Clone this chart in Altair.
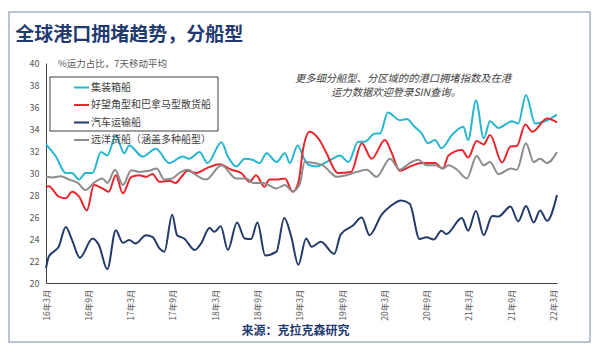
import altair as alt
import pandas as pd

FONT = "Noto Sans CJK SC"

series_names = ["集装箱船", "好望角型和巴拿马型散货船", "汽车运输船", "远洋货船（涵盖多种船型）"]
series_colors = ["#27b6d2", "#e8262d", "#223a6a", "#8c8c8c"]

tick_months = [0, 6, 12, 18, 24, 30, 36, 42, 48, 54, 60, 66, 72]
tick_labels = ["16年3月", "16年9月", "17年3月", "17年9月", "18年3月", "18年9月",
               "19年3月", "19年9月", "20年3月", "20年9月", "21年3月", "21年9月", "22年3月"]
y_ticks = [20, 22, 24, 26, 28, 30, 32, 34, 36, 38, 40]

# months since 2016-03, values in % of capacity
container_m = [0, 1.4, 2.8, 3.7, 4.7, 5.6, 6.6, 7.8, 8.7, 9.9, 11.1, 11.8, 13.7, 15.6, 17.5, 19.4,
               20.3, 21.8, 22.9, 24.9, 25.8, 27.0, 28.2, 29.3, 30.3, 31.3, 32.7, 33.9, 34.6, 35.7,
               36.7, 37.4, 38.4, 39.5, 40.7, 41.7, 42.9, 44.3, 45.2, 46.7, 47.4, 48.5, 50.2, 51.2,
               52.3, 53.3, 54.2, 55.2, 56.1, 57.6, 59.2, 59.9, 61.0, 62.1, 63.0, 64.2, 66.1, 67.0,
               68.1, 69.4, 70.8, 72.5]
container_v = [32.6, 31.5, 30.0, 30.0, 29.4, 30.0, 30.0, 31.9, 31.6, 33.4, 31.8, 32.5, 31.5, 32.2,
               30.9, 31.5, 31.3, 31.9, 30.9, 32.8, 31.5, 30.6, 31.3, 31.2, 30.9, 31.8, 31.0, 31.8,
               30.9, 32.5, 31.2, 30.7, 30.6, 30.9, 31.3, 31.6, 31.0, 32.85, 32.85, 33.6, 33.6, 35.5,
               34.8, 34.9, 34.2, 33.6, 32.7, 33.0, 32.25, 33.45, 34.2, 33.0, 36.6, 33.15, 34.7, 34.1,
               34.7, 34.5, 37.1, 34.5, 34.7, 35.3]

bulk_m = [0, 0.4, 1.8, 2.8, 3.7, 4.7, 5.8, 6.8, 8.0, 8.9, 9.9, 10.9, 12.1, 13.2, 14.2, 15.1, 16.1,
          17.5, 18.4, 19.2, 20.1, 21.3, 22.7, 24.6, 26.3, 27.7, 28.9, 29.8, 31.0, 31.7, 32.7, 33.9,
          35.0, 35.8, 36.5, 37.4, 38.8, 39.8, 41.4, 43.3, 44.8, 46.2, 48.1, 49.0, 50.2, 51.7, 53.3,
          55.2, 56.3, 57.1, 59.0, 59.9, 61.1, 62.1, 63.0, 64.7, 65.9, 66.8, 68.0, 69.0, 71.1, 72.5]
bulk_v = [28.75, 28.8, 27.85, 27.7, 28.3, 27.85, 26.6, 28.9, 28.6, 28.3, 29.8, 28.15, 29.65, 29.8,
          29.65, 29.9, 29.2, 29.3, 29.1, 29.65, 30.2, 30.0, 30.4, 30.8, 30.3, 30.0, 29.2, 29.8,
          28.75, 29.4, 29.4, 29.5, 28.3, 29.1, 32.25, 33.75, 33.0, 31.8, 30.0, 30.1, 32.7, 31.3,
          33.0, 31.9, 30.2, 30.6, 30.9, 30.9, 30.4, 31.6, 32.1, 31.4, 32.9, 32.6, 33.45, 30.95,
          32.4, 32.45, 34.4, 33.75, 34.95, 34.6]

car_m = [0, 0.4, 1.1, 1.8, 2.8, 3.7, 4.8, 6.6, 7.5, 8.7, 9.9, 10.9, 11.8, 12.7, 14.2, 15.1, 16.1,
         16.8, 17.9, 18.6, 19.6, 21.1, 22.0, 23.2, 23.9, 24.8, 25.8, 27.1, 28.2, 29.1, 30.0, 31.1,
         32.7, 33.8, 34.8, 35.8, 36.9, 37.7, 39.0, 40.9, 41.8, 43.5, 44.8, 45.9, 47.6, 48.9, 50.4,
         51.6, 53.0, 54.0, 55.0, 56.1, 56.8, 59.0, 59.9, 61.0, 62.1, 63.3, 64.2, 65.9, 67.0, 68.1,
         69.2, 70.1, 71.1, 72.5]
car_v = [21.35, 22.4, 22.85, 23.3, 25.1, 23.9, 22.3, 24.05, 23.45, 21.25, 24.8, 23.65, 23.9, 23.6,
         24.35, 24.2, 23.15, 22.85, 26.2, 24.35, 24.05, 23.0, 23.6, 25.0, 24.65, 25.15, 23.0, 25.5,
         24.05, 24.0, 25.5, 22.5, 22.85, 25.9, 24.2, 21.65, 24.05, 23.3, 23.75, 22.65, 24.4, 25.2,
         25.95, 24.35, 26.2, 27.0, 27.5, 27.2, 24.0, 24.15, 23.95, 24.75, 24.45, 25.9, 24.75,
         26.55, 24.35, 26.1, 26.05, 26.95, 25.6, 27.0, 25.5, 26.6, 25.65, 28.0]

deep_m = [0, 1.0, 2.1, 3.3, 4.5, 5.6, 6.8, 8.0, 8.7, 9.8, 10.9, 12.1, 13.2, 14.6, 15.7, 16.8, 17.9,
          18.9, 20.1, 21.3, 22.7, 24.9, 27.0, 28.4, 29.4, 30.8, 32.7, 33.9, 35.0, 36.0, 36.7, 38.1,
          39.3, 40.3, 41.2, 42.6, 44.1, 45.5, 46.9, 48.8, 50.2, 51.6, 52.8, 54.0, 55.2, 56.3, 57.1,
          58.3, 59.7, 61.1, 62.1, 63.0, 64.2, 65.9, 66.8, 68.1, 69.2, 70.1, 71.1, 72.5]
deep_v = [29.65, 29.6, 29.7, 29.4, 29.1, 28.45, 29.1, 29.5, 29.1, 30.3, 28.9, 30.25, 30.1, 30.2,
          30.4, 29.4, 29.5, 30.0, 30.3, 29.8, 29.4, 30.7, 29.5, 29.5, 29.1, 29.1, 28.6, 28.9, 28.35,
          29.0, 31.0, 30.9, 30.7, 30.1, 29.65, 29.8, 30.1, 30.3, 29.65, 31.3, 30.3, 30.9, 31.2,
          30.7, 30.7, 30.4, 30.7, 30.3, 29.5, 31.55, 30.7, 31.0, 29.9, 30.4, 30.3, 32.7, 31.0,
          31.3, 30.9, 31.9]

title_text = "全球港口拥堵趋势，分船型"
unit_text = "%运力占比，7天移动平均"
note_line1 = "更多细分船型、分区域的的港口拥堵指数及在港"
note_line2 = "运力数据欢迎登录SIN查询。"
source_text = "来源：克拉克森研究"

rows = []
for name, ms, vs in zip(series_names,
                        [container_m, bulk_m, car_m, deep_m],
                        [container_v, bulk_v, car_v, deep_v]):
    for m, v in zip(ms, vs):
        rows.append({"series": name, "month": m, "value": v})
df = pd.DataFrame(rows)

label_expr = "[" + ",".join("'%s'" % t for t in tick_labels) + "][round(datum.value/6)]"

one = pd.DataFrame({"k": [0]})

frame = alt.Chart(one).mark_rect(fillOpacity=0, stroke="#a7b1c6", strokeWidth=1.5).encode(
    x=alt.value(-37), x2=alt.value(544), y=alt.value(-51), y2=alt.value(279)
)

legend_box = alt.Chart(one).mark_rect(fillOpacity=0, stroke="#404040", strokeWidth=1).encode(
    x=alt.value(4), x2=alt.value(172), y=alt.value(14), y2=alt.value(68)
)

lines = alt.Chart(df).mark_line(interpolate="monotone", strokeWidth=2).encode(
    x=alt.X("month:Q",
            scale=alt.Scale(domain=[0, 72.5], nice=False, zero=False),
            axis=alt.Axis(values=tick_months, labelExpr=label_expr, labelAngle=270,
                          labelAlign="right", labelBaseline="middle", ticks=False, grid=False,
                          title=None, labelPadding=6, labelFontSize=8.5, labelColor="#595959",
                          domainColor="#404040", labelFont=FONT)),
    y=alt.Y("value:Q",
            scale=alt.Scale(domain=[20, 40], nice=False, zero=False),
            axis=alt.Axis(values=y_ticks, ticks=False, grid=False, title=None, labelPadding=7,
                          labelFontSize=9, labelColor="#595959", domainColor="#404040",
                          labelFont=FONT)),
    color=alt.Color("series:N",
                    scale=alt.Scale(domain=series_names, range=series_colors),
                    legend=alt.Legend(orient="none", legendX=27, legendY=16, title=None,
                                      symbolType="stroke", symbolSize=225, symbolStrokeWidth=2,
                                      labelFontSize=10, labelFont=FONT, labelColor="#404040",
                                      rowPadding=3.5, labelOffset=1, padding=0)),
)

unit = alt.Chart(one).mark_text(text=unit_text, align="left", baseline="middle", fontSize=9.5,
                                font=FONT, color="#595959").encode(
    x=alt.value(12), y=alt.value(1))

note1 = alt.Chart(one).mark_text(text=note_line1, align="center", baseline="middle",
                                 fontSize=10.3, font=FONT, fontStyle="italic",
                                 color="#404040").encode(
    x=alt.value(357), y=alt.value(16))

note2 = alt.Chart(one).mark_text(text=note_line2, align="center", baseline="middle",
                                 fontSize=10.3, font=FONT, fontStyle="italic",
                                 color="#404040").encode(
    x=alt.value(350), y=alt.value(29.5))

source = alt.Chart(one).mark_text(text=source_text, align="center", baseline="middle",
                                  fontSize=12, font=FONT, fontWeight="bold",
                                  color="#1f3a70").encode(
    x=alt.value(249.5), y=alt.value(268))

chart = alt.layer(frame, legend_box, lines, unit, note1, note2, source).properties(
    width=511, height=220,
    padding={"left": 38, "top": 55, "right": 35, "bottom": 68},
    autosize=alt.AutoSizeParams(type="none"),
    title=alt.Title(title_text, anchor="start", fontSize=19, font=FONT, fontWeight="bold",
                    color="#1f3a70", dx=7, baseline="top", offset=0, dy=34),
    background="white",
).configure_view(stroke=None)

chart.save("out.html", embed_options={"renderer": "svg", "actions": False})
